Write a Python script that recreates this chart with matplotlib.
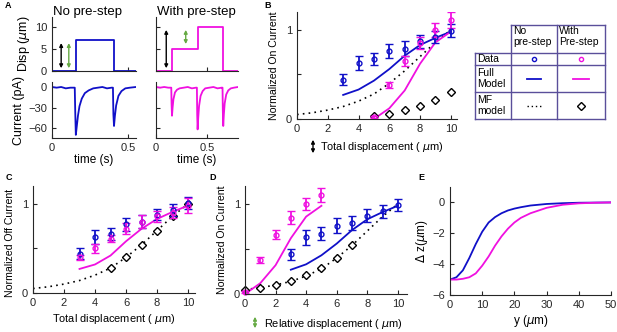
import numpy as np
import matplotlib
matplotlib.use('Agg')
import matplotlib.pyplot as plt

plt.rcParams['font.family'] = ['Liberation Sans', 'DejaVu Sans']
plt.rcParams['xtick.direction'] = 'in'
plt.rcParams['ytick.direction'] = 'in'
plt.rcParams['font.size'] = 8
plt.rcParams['axes.edgecolor'] = '#262626'
plt.rcParams['xtick.color'] = '#262626'
plt.rcParams['ytick.color'] = '#262626'

BLUE = '#1010c8'
MAG = '#f010e0'
GREEN = '#66aa44'
TAB = '#5a4f9a'

#panel A step protocols
t_step1 = [0, 0.155, 0.155, 0.405, 0.405, 0.55]
d_step1 = [0, 0, 7, 7, 0, 0]
t_step2 = [0, 0.155, 0.155, 0.405, 0.405, 0.655, 0.655, 0.8]
d_step2 = [0, 0, 5, 5, 10, 10, 0, 0]

#panel A currents
t_cur1 = [0, 0.03, 0.06, 0.09, 0.12, 0.149, 0.152, 0.156, 0.162, 0.17, 0.18, 0.195, 0.215, 0.24, 0.27, 0.30, 0.33, 0.36, 0.39, 0.399,
          0.402, 0.406, 0.412, 0.42, 0.435, 0.455, 0.48, 0.51, 0.55]
i_cur1 = [0, -1, 0, -2, -1, -1, -35, -70, -58, -42, -28, -17, -9, -5, -2, -1, 0, -2, -1, -1,
          -40, -57, -42, -27, -13, -6, -2, -1, 0]
t_cur2 = [0, 0.04, 0.08, 0.12, 0.149, 0.152, 0.156, 0.162, 0.17, 0.185, 0.205, 0.23, 0.27, 0.31, 0.35, 0.39, 0.399,
          0.402, 0.406, 0.412, 0.42, 0.435, 0.455, 0.48, 0.52, 0.56, 0.60, 0.64, 0.649,
          0.652, 0.656, 0.662, 0.67, 0.685, 0.705, 0.73, 0.76, 0.8]
i_cur2 = [0, -1, 0, -1, -1, -25, -42, -30, -18, -8, -4, -2, -1, 0, -2, -1, -1,
          -40, -62, -45, -28, -13, -6, -2, -1, 0, -2, -1, -1,
          -35, -57, -40, -24, -11, -5, -2, -1, 0]

#panel B
x_dat = [3, 4, 5, 6, 7, 8, 9, 10]
b_blue = [0.44, 0.63, 0.67, 0.76, 0.79, 0.87, 0.92, 0.99]
b_blue_err = [0.06, 0.08, 0.07, 0.08, 0.08, 0.07, 0.07, 0.07]
x_mag = [5, 6, 7, 8, 9, 10]
b_mag = [0.02, 0.38, 0.65, 0.85, 1.0, 1.11]
b_mag_err = [0.01, 0.03, 0.06, 0.07, 0.08, 0.09]
full_blue = [0.27, 0.33, 0.43, 0.56, 0.71, 0.83, 0.91, 0.98]
full_mag = [0.0, 0.12, 0.32, 0.62, 0.86, 0.98]
x_mf = [0, 1, 2, 3, 4, 5, 6, 7, 8, 9, 10]
mf_line = [0.05, 0.07, 0.10, 0.14, 0.20, 0.28, 0.40, 0.54, 0.70, 0.86, 1.0]
b_diam = [0.03, 0.06, 0.10, 0.15, 0.21, 0.30]

#panel C
c_blue = [0.44, 0.63, 0.66, 0.77, 0.80, 0.88, 0.93, 1.01]
c_blue_err = [0.06, 0.08, 0.07, 0.07, 0.07, 0.06, 0.07, 0.07]
c_mag = [0.40, 0.50, 0.61, 0.72, 0.80, 0.86, 0.90, 0.98]
c_mag_err = [0.03, 0.05, 0.04, 0.06, 0.07, 0.06, 0.06, 0.08]
c_full = [0.27, 0.32, 0.42, 0.58, 0.72, 0.83, 0.91, 0.98]
x_cd = [5, 6, 7, 8, 9, 10]
c_diam = [0.28, 0.40, 0.54, 0.70, 0.86, 1.0]

#panel D
x_rel = [0, 1, 2, 3, 4, 5]
d_mag = [0.02, 0.38, 0.66, 0.85, 1.0, 1.1]
d_mag_err = [0.01, 0.03, 0.05, 0.07, 0.07, 0.08]
d_full_mag = [0.0, 0.12, 0.32, 0.62, 0.86, 0.98]
x_dd = [0, 1, 2, 3, 4, 5, 6, 7]
d_diam = [0.04, 0.07, 0.10, 0.15, 0.21, 0.29, 0.40, 0.55]

#panel E
y_e = [0, 2, 4, 6, 8, 10, 12, 14, 16, 18, 20, 22, 25, 30, 35, 40, 45, 50]
dz_blue = [-5.0, -4.85, -4.4, -3.6, -2.7, -1.9, -1.3, -0.95, -0.7, -0.52, -0.4, -0.31, -0.2, -0.1, -0.05, -0.02, -0.01, 0]
dz_mag = [-5.0, -5.0, -4.95, -4.85, -4.6, -4.1, -3.5, -2.8, -2.2, -1.7, -1.3, -1.0, -0.7, -0.35, -0.15, -0.06, -0.02, 0]

W, H = 617, 332
fig = plt.figure(figsize=(W/100, H/100), dpi=100)

def ax_px(x0, y0, x1, y1):
    return fig.add_axes([x0/W, 1-y1/H, (x1-x0)/W, (y1-y0)/H])

def style(ax):
    ax.spines['top'].set_visible(False)
    ax.spines['right'].set_visible(False)
    ax.tick_params(length=3, width=0.8, labelsize=8)

LBL = 7.9
YLBL = 7.6

#A
a1 = ax_px(52, 17, 136, 71)
a1.plot(t_step1, d_step1, color=BLUE, lw=1.3)
a1.set_xlim(0, 0.55); a1.set_ylim(0, 12.3)
a1.set_yticks([0, 5, 10]); a1.set_xticks([0.5]); a1.set_xticklabels([])
a1.set_ylabel('Disp ($\\mu$m)', fontsize=9, labelpad=2)
a1.annotate('', xy=(0.06, 0), xytext=(0.06, 7), arrowprops=dict(arrowstyle='<|-|>', color='black', lw=1, mutation_scale=5))
a1.annotate('', xy=(0.11, 0), xytext=(0.11, 7), arrowprops=dict(arrowstyle='<|-|>', color=GREEN, lw=1, mutation_scale=5))
fig.text(53/W, 1-12/H, 'No pre-step', fontsize=9.5, va='center')
style(a1)

a2 = ax_px(52, 82, 136, 138)
a2.plot(t_cur1, i_cur1, color=BLUE, lw=1.3)
a2.set_xlim(0, 0.55); a2.set_ylim(-74.6, 7.3)
a2.set_yticks([0, -30, -60]); a2.set_xticks([0, 0.5]); a2.set_xticklabels(['0', '0.5'])
a2.set_ylabel('Current (pA)', fontsize=9, labelpad=2)
a2.set_xlabel('time (s)', fontsize=8.5, labelpad=1)
style(a2)

a3 = ax_px(156, 17, 238, 71)
a3.plot(t_step2, d_step2, color=MAG, lw=1.3)
a3.set_xlim(0, 0.8); a3.set_ylim(0, 12.3)
a3.set_yticks([0, 5, 10]); a3.set_yticklabels([])
a3.set_xticks([0.5]); a3.set_xticklabels([])
a3.annotate('', xy=(0.1, 0), xytext=(0.1, 10), arrowprops=dict(arrowstyle='<|-|>', color='black', lw=1, mutation_scale=5))
a3.annotate('', xy=(0.29, 5.5), xytext=(0.29, 10), arrowprops=dict(arrowstyle='<|-|>', color=GREEN, lw=1, mutation_scale=5))
fig.text(157/W, 1-12/H, 'With pre-step', fontsize=9.5, va='center')
style(a3)

a4 = ax_px(156, 82, 238, 138)
a4.plot(t_cur2, i_cur2, color=MAG, lw=1.3)
a4.set_xlim(0, 0.8); a4.set_ylim(-74.6, 7.3)
a4.set_yticks([0, -30, -60]); a4.set_yticklabels([])
a4.set_xticks([0, 0.5]); a4.set_xticklabels(['0', '0.5'])
a4.set_xlabel('time (s)', fontsize=8.5, labelpad=1)
style(a4)

ekw = dict(capsize=3, elinewidth=1.3, capthick=1.3, ls='none', marker='o', ms=3.5, mfc='none', mew=1)

#B
b = ax_px(297, 12, 457, 119)
b.plot(x_mf, mf_line, color='black', ls=(0, (1, 2.5)), lw=1.2)
b.plot(x_dat, full_blue, color=BLUE, lw=1.3)
b.plot(x_mag, full_mag, color=MAG, lw=1.3)
b.plot(x_mag, b_diam, ls='none', marker='D', ms=4, mfc='white', mec='black', mew=1)
b.errorbar(x_dat, b_blue, yerr=b_blue_err, color=BLUE, **ekw)
b.errorbar(x_mag, b_mag, yerr=b_mag_err, color=MAG, **ekw)
b.set_xlim(0, 10.4); b.set_ylim(0, 1.2)
b.set_xticks([0, 2, 4, 6, 8, 10]); b.set_yticks([0, 0.5, 1]); b.set_yticklabels(['0', '', '1'])
b.set_ylabel('Normalized On Current', fontsize=YLBL, labelpad=5)
b.set_xlabel('Total displacement ( $\\mu$m)', fontsize=LBL)
b.xaxis.set_label_coords(0.53, -0.20)
style(b)

#C
c = ax_px(33, 186, 195, 293)
c.plot(x_mf, mf_line, color='black', ls=(0, (1, 2.5)), lw=1.2)
c.plot(x_dat, c_full, color=MAG, lw=1.3)
c.plot(x_cd, c_diam, ls='none', marker='D', ms=4, mfc='white', mec='black', mew=1)
c.errorbar(x_dat, c_blue, yerr=c_blue_err, color=BLUE, **ekw)
c.errorbar(x_dat, c_mag, yerr=c_mag_err, color=MAG, **ekw)
c.set_xlim(0, 10.45); c.set_ylim(0, 1.2)
c.set_xticks([0, 2, 4, 6, 8, 10]); c.set_yticks([0, 0.5, 1]); c.set_yticklabels(['0', '', '1'])
c.set_ylabel('Normalized Off Current', fontsize=YLBL, labelpad=5)
c.yaxis.set_label_coords(-0.11, 0.47)
c.set_xlabel('Total displacement ( $\\mu$m)', fontsize=LBL, labelpad=3)
style(c)

#D
d = ax_px(245, 186, 407, 294)
d.plot(x_mf, mf_line, color='black', ls=(0, (1, 2.5)), lw=1.2)
d.plot(x_dat, full_blue, color=BLUE, lw=1.3)
d.plot(x_rel, d_full_mag, color=MAG, lw=1.3)
d.plot(x_dd, d_diam, ls='none', marker='D', ms=4, mfc='white', mec='black', mew=1, clip_on=False)
d.errorbar(x_dat, b_blue, yerr=b_blue_err, color=BLUE, **ekw)
d.errorbar(x_rel, d_mag, yerr=d_mag_err, color=MAG, clip_on=False, **ekw)
d.set_xlim(0, 10.6); d.set_ylim(0, 1.2)
d.set_xticks([0, 2, 4, 6, 8, 10]); d.set_yticks([0, 0.5, 1]); d.set_yticklabels(['0', '', '1'])
d.set_ylabel('Normalized On Current', fontsize=YLBL, labelpad=5)
d.set_xlabel('Relative displacement ( $\\mu$m)', fontsize=LBL)
d.xaxis.set_label_coords(0.545, -0.21)
style(d)

#E
e = ax_px(450, 187, 611, 295)
e.plot(y_e, dz_blue, color=BLUE, lw=1.3)
e.plot(y_e, dz_mag, color=MAG, lw=1.3)
e.set_xlim(0, 50); e.set_ylim(-6, 1)
e.set_xticks([0, 10, 20, 30, 40, 50]); e.set_yticks([0, -2, -4, -6])
e.set_ylabel('$\\Delta$ z($\\mu$m)', fontsize=8.5, labelpad=2)
e.set_xlabel('y ($\\mu$m)', fontsize=8.5, labelpad=2)
style(e)

#double arrows beside x labels
fig.add_artist(matplotlib.patches.FancyArrowPatch((313/W, 1-156/H), (313/W, 1-137/H), transform=fig.transFigure,
               arrowstyle='<|-|>', mutation_scale=5, color='black', lw=1))
fig.add_artist(matplotlib.patches.FancyArrowPatch((255/W, 1-331/H), (255/W, 1-314/H), transform=fig.transFigure,
               arrowstyle='<|-|>', mutation_scale=5, color=GREEN, lw=1))

#panel letters
for lbl, px, py in [('A', 5, 6), ('B', 264, 5), ('C', 6, 178), ('D', 209, 178), ('E', 418, 178)]:
    fig.text(px/W, 1-py/H, lbl, fontsize=6.5, fontweight='bold', va='center')

#legend table
t = fig.add_axes([0, 0, 1, 1])
t.set_xlim(0, W); t.set_ylim(H, 0); t.axis('off')
cx = [475, 511, 557, 605]
ry = [25, 53, 65, 92, 119]
t.plot([cx[1], cx[3]], [ry[0], ry[0]], color=TAB, lw=1)
for yy in ry[1:]:
    t.plot([cx[0], cx[3]], [yy, yy], color=TAB, lw=1)
t.plot([cx[0], cx[0]], [ry[1], ry[4]], color=TAB, lw=1)
for xx in cx[1:]:
    t.plot([xx, xx], [ry[0], ry[4]], color=TAB, lw=1)
t.text(cx[1]+2, ry[0]+1, 'No\npre-step', fontsize=7.5, va='top', linespacing=1.1)
t.text(cx[2]+2, ry[0]+1, 'With\nPre-step', fontsize=7.5, va='top', linespacing=1.1)
t.text(cx[0]+2, (ry[1]+ry[2])/2, 'Data', fontsize=7.5, va='center')
t.text(cx[0]+2, (ry[2]+ry[3])/2, 'Full\nModel', fontsize=7.5, va='center', linespacing=1.1)
t.text(cx[0]+2, (ry[3]+ry[4])/2, 'MF\nmodel', fontsize=7.5, va='center', linespacing=1.1)
m1 = (cx[1]+cx[2])/2; m2 = (cx[2]+cx[3])/2
t.plot([m1], [(ry[1]+ry[2])/2], ls='none', marker='o', ms=3, mfc='none', mec=BLUE, mew=1)
t.plot([m2], [(ry[1]+ry[2])/2], ls='none', marker='o', ms=3, mfc='none', mec=MAG, mew=1)
t.plot([m1-7, m1+7], [(ry[2]+ry[3])/2]*2, color=BLUE, lw=1.3)
t.plot([m2-8, m2+8], [(ry[2]+ry[3])/2]*2, color=MAG, lw=1.3)
t.plot([m1-7, m1+7], [(ry[3]+ry[4])/2]*2, color='black', ls=(0, (1, 2)), lw=1)
t.plot([m2], [(ry[3]+ry[4])/2], ls='none', marker='D', ms=4, mfc='white', mec='black', mew=1)

fig.savefig('out.png', dpi=100)
